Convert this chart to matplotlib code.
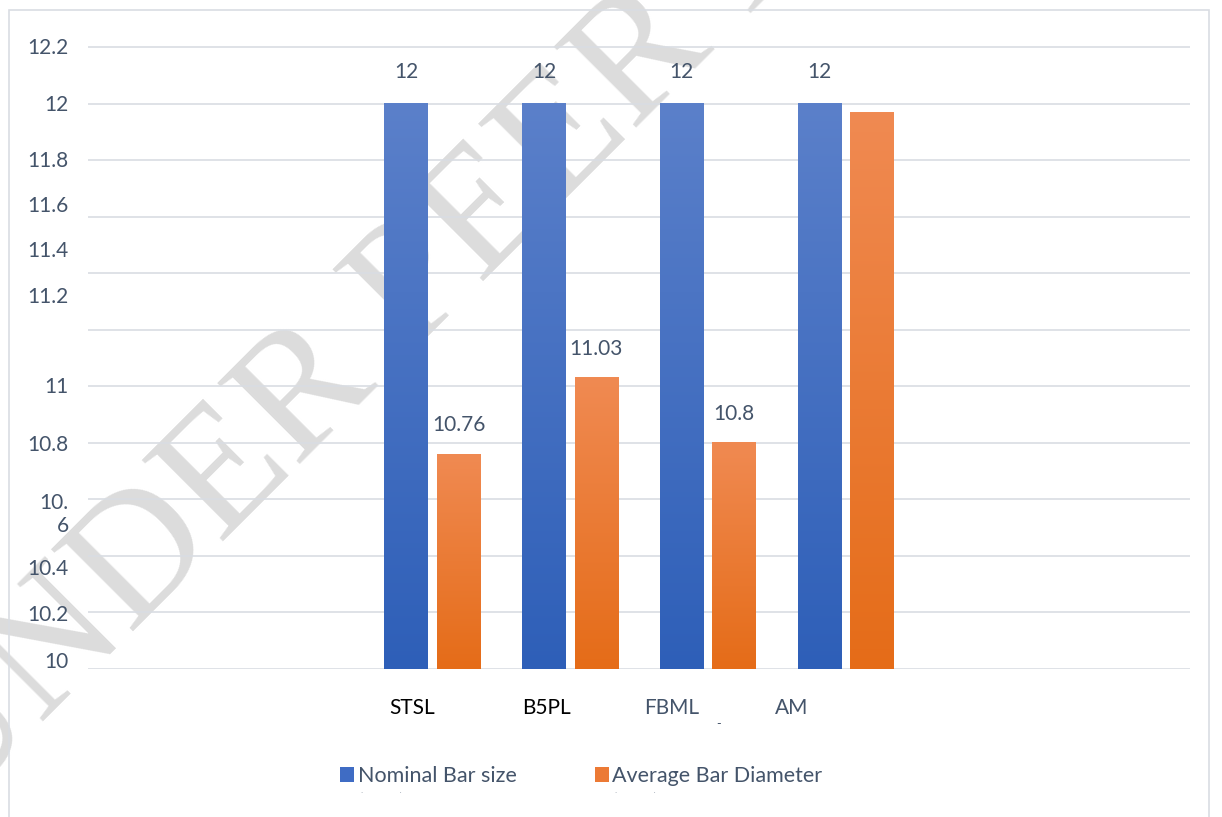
import numpy as np
import matplotlib.pyplot as plt
from matplotlib.colors import LinearSegmentedColormap
from matplotlib.patches import Rectangle

# Data
categories = ['STSL', 'B5PL', 'FBML', 'AM']
nominal = [12, 12, 12, 12]  # Nominal Bar size (mm)
average = [10.76, 11.03, 10.8, 11.97]  # Average Bar Diameter (mm)
nominal_labels = ['12', '12', '12', '12']
average_labels = ['10.76', '11.03', '10.8', '']
grid_vals = np.round(np.arange(10, 12.21, 0.2), 1)
ytick_texts = ['12.2', '12', '11.8', '11.6', '11.4', '11.2', '11', '10.8', '10.\n6', '10.4', '10.2', '10']

# Layout (label positions as drawn in the original, slightly shifted)
ytick_label_pos = [12.2035, 12.0023, 11.8045, 11.6456, 11.4867, 11.3243,
                   11.003, 10.7982, 10.558, 10.360, 10.198, 10.032]
xlabel_shift = [-0.148, -0.175, -0.26, -0.39]
xlabel_colors = ['black', 'black', '#44546A', '#44546A']

W, H = 1222, 817
plt.rcParams['font.family'] = ['Lato', 'DejaVu Sans']
text_col = '#44546A'
blue_top, blue_bot = '#5B80CA', '#2E5FB8'
orng_top, orng_bot = '#F08A52', '#E56C18'

fig = plt.figure(figsize=(W / 100, H / 100), dpi=100)
ax = fig.add_axes([88 / W, 1 - 669 / H, (1190 - 88) / W, (669 - 46) / H])
ax.set_facecolor('none')

# watermark behind everything
fig.text(-50 / W, 1 - 815 / H, 'UNDER PEER REVIEW', rotation=45, rotation_mode='anchor',
         ha='left', va='baseline', fontsize=127, family='Liberation Serif',
         color='#DCDCDC', zorder=-1)

# chart frame
fig.add_artist(Rectangle((9 / W, -0.02), 1200 / W, 1 - 10 / H + 0.02, transform=fig.transFigure,
                         fill=False, edgecolor='#D9DDE3', linewidth=1.2))

base = 10
x = np.arange(len(categories))
w = 0.316
off = 0.19
b1 = ax.bar(x - off, np.array(nominal) - base, w, bottom=base)
b2 = ax.bar(x + off, np.array(average) - base, w, bottom=base)

grad = np.linspace(0, 1, 256).reshape(-1, 1)
for bars, ctop, cbot in [(b1, blue_top, blue_bot), (b2, orng_top, orng_bot)]:
    cmap = LinearSegmentedColormap.from_list('g', [ctop, cbot])
    for r in bars:
        x0, y0, bw, bh = r.get_x(), r.get_y(), r.get_width(), r.get_height()
        ax.imshow(grad, extent=(x0, x0 + bw, y0, y0 + bh), cmap=cmap,
                  aspect='auto', origin='upper', zorder=2)
        r.set_visible(False)

# value labels
for r, lab in zip(b1, nominal_labels):
    ax.annotate(lab, (r.get_x() + r.get_width() / 2, r.get_y() + r.get_height()),
                xytext=(0, 18.5), textcoords='offset points', ha='center', va='baseline',
                fontsize=15, color=text_col)
for r, lab in zip(b2, average_labels):
    if lab:
        ax.annotate(lab, (r.get_x() + r.get_width() / 2, r.get_y() + r.get_height()),
                    xytext=(0, 16.5), textcoords='offset points', ha='center', va='baseline',
                    fontsize=15, color=text_col)

ax.set_xlim(-2.5, 5.5)
ax.set_ylim(10, 12.2)

# gridlines on minor ticks, labels on major ticks
ax.set_yticks(grid_vals, minor=True)
ax.grid(which='minor', axis='y', color='#D9DDE3', linewidth=1.2)
ax.set_axisbelow(True)
ax.set_yticks(ytick_label_pos, labels=ytick_texts)
ax.tick_params(axis='y', which='both', length=0, pad=14, labelsize=15, labelcolor=text_col)

ax.set_xticks(x + np.array(xlabel_shift), labels=categories)
ax.tick_params(axis='x', length=0, pad=21, labelsize=15)
for t, c in zip(ax.get_xticklabels(), xlabel_colors):
    t.set_color(c)
for s in ax.spines.values():
    s.set_visible(False)

# stray dash under FBML
ax.text(2.08, -0.088, '-', transform=ax.get_xaxis_transform(), ha='center', va='center',
        fontsize=9, color='#44546A')

# legend (second line cut off as in the original)
fig.add_artist(Rectangle((340 / W, 1 - 782 / H), 14 / W, 15 / H, transform=fig.transFigure,
                         facecolor='#3F6CC4', edgecolor='none'))
fig.add_artist(Rectangle((595 / W, 1 - 782 / H), 14 / W, 15 / H, transform=fig.transFigure,
                         facecolor='#EC7A35', edgecolor='none'))
for lx, lab in [(358, 'Nominal Bar size'), (612, 'Average Bar Diameter')]:
    fig.text(lx / W, 1 - 774 / H, lab, ha='left', va='center_baseline',
             fontsize=15.5, color=text_col)
    fig.text(lx / W, 1 - 801 / H, '(mm)', ha='left', va='center_baseline',
             fontsize=15.5, color=text_col)
fig.add_artist(Rectangle((300 / W, 0), 700 / W, (H - 793) / H, transform=fig.transFigure,
                         facecolor='white', edgecolor='none', zorder=10))

fig.savefig('out.png', dpi=100)
